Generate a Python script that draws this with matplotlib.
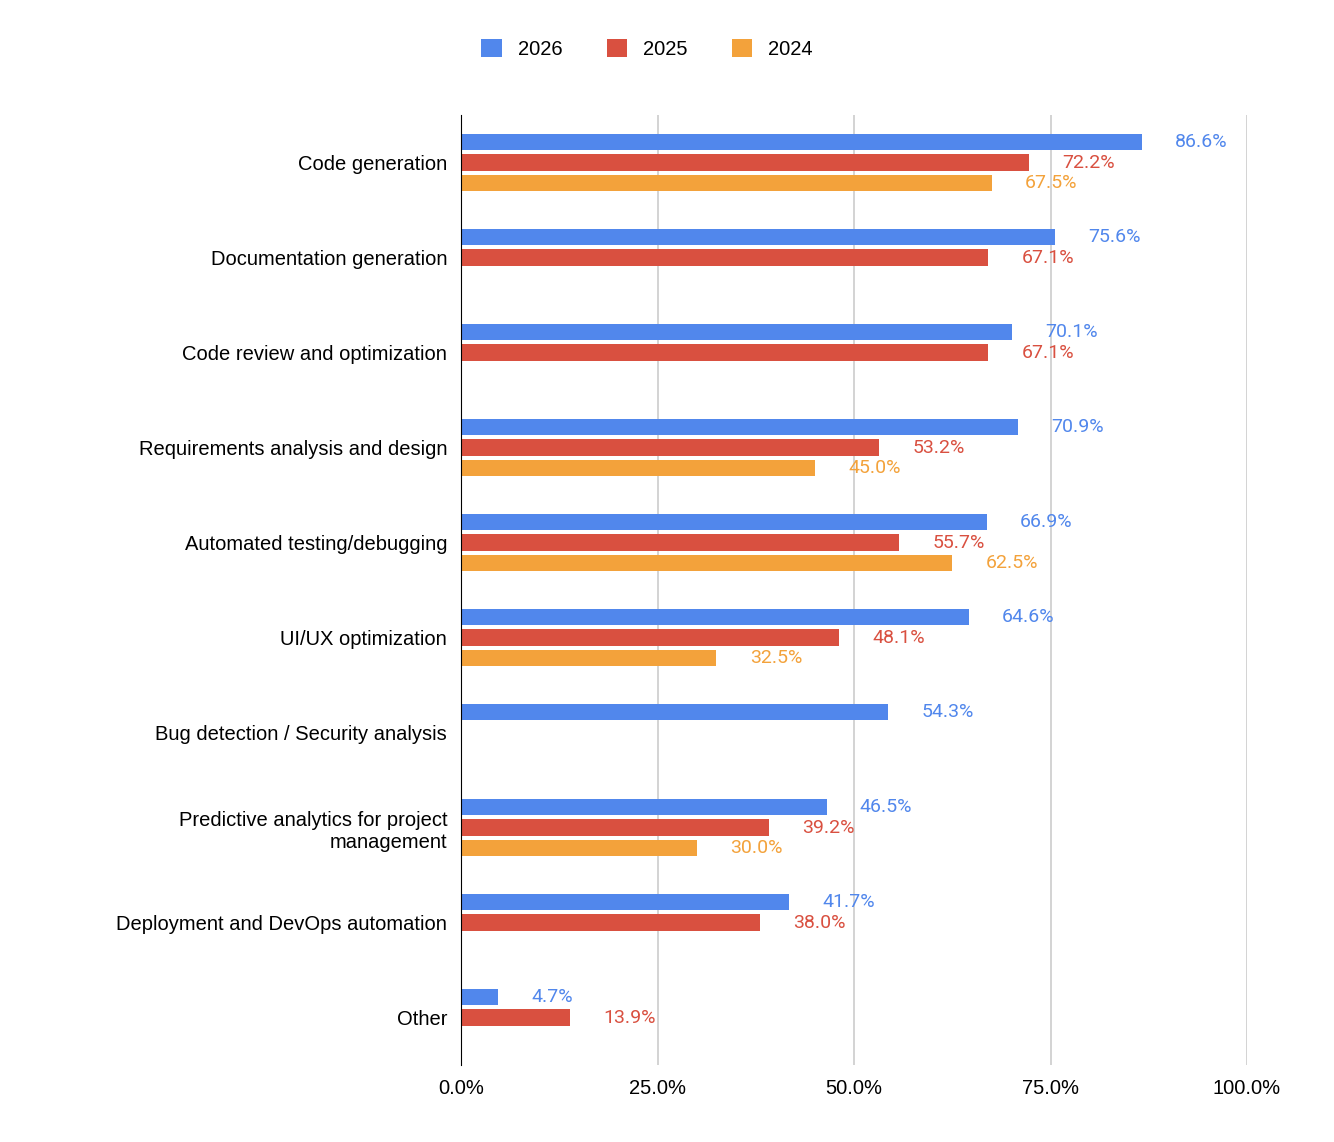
import numpy as np
import matplotlib.pyplot as plt
from matplotlib.ticker import FuncFormatter

categories = ["Code generation", "Documentation generation", "Code review and optimization",
              "Requirements analysis and design", "Automated testing/debugging", "UI/UX optimization",
              "Bug detection / Security analysis", "Predictive analytics for project\nmanagement",
              "Deployment and DevOps automation", "Other"]
v2026 = [86.6, 75.6, 70.1, 70.9, 66.9, 64.6, 54.3, 46.5, 41.7, 4.7]
v2025 = [72.2, 67.1, 67.1, 53.2, 55.7, 48.1, np.nan, 39.2, 38.0, 13.9]
v2024 = [67.5, np.nan, np.nan, 45.0, 62.5, 32.5, np.nan, 30.0, np.nan, np.nan]
series = [("2026", v2026, "#5187ec"), ("2025", v2025, "#d95040"), ("2024", v2024, "#f3a23b")]

fig = plt.figure(figsize=(13.34, 11.42), dpi=100)
ax = fig.add_axes([0.3456, 0.0674, 0.5892, 0.8319])

y = np.arange(len(categories))
pitch = 20 / 92
for i, (name, vals, col) in enumerate(series):
    pos = y + (i - 1) * pitch
    ax.barh(pos, vals, height=16 / 92, color=col, label=name, zorder=3)
    for p, v in zip(pos, vals):
        if not np.isnan(v):
            ax.annotate(f"{v:.1f}%", (v, p), xytext=(24, 0), textcoords="offset points",
                        va="center", ha="left", color=col, fontsize=14, family="Roboto")

ax.set_ylim(len(categories) - 0.5, -0.5)
ax.set_xlim(0, 100)
ax.set_yticks(y)
ax.set_yticklabels(categories, fontsize=14.5, family="Liberation Sans")
ax.set_xticks([0, 25, 50, 75, 100])
ax.xaxis.set_major_formatter(FuncFormatter(lambda v, _: f"{v:.1f}%"))
for t in ax.get_xticklabels():
    t.set_fontsize(14.5)
    t.set_family("Liberation Sans")
ax.tick_params(length=0, pad=10)
ax.grid(axis="x", color="#cccccc", linewidth=1.2, zorder=0)
for s in ["top", "right", "bottom"]:
    ax.spines[s].set_visible(False)
ax.spines["left"].set_color("black")
ax.spines["left"].set_zorder(4)

fig.legend(loc="center", bbox_to_anchor=(0.485, 0.957), ncol=3, frameon=False,
           prop={"family": "Liberation Sans", "size": 14.5}, handlelength=1.0, handleheight=1.0,
           columnspacing=2.2, handletextpad=0.8)

fig.savefig("out.png", dpi=100, facecolor="white")
